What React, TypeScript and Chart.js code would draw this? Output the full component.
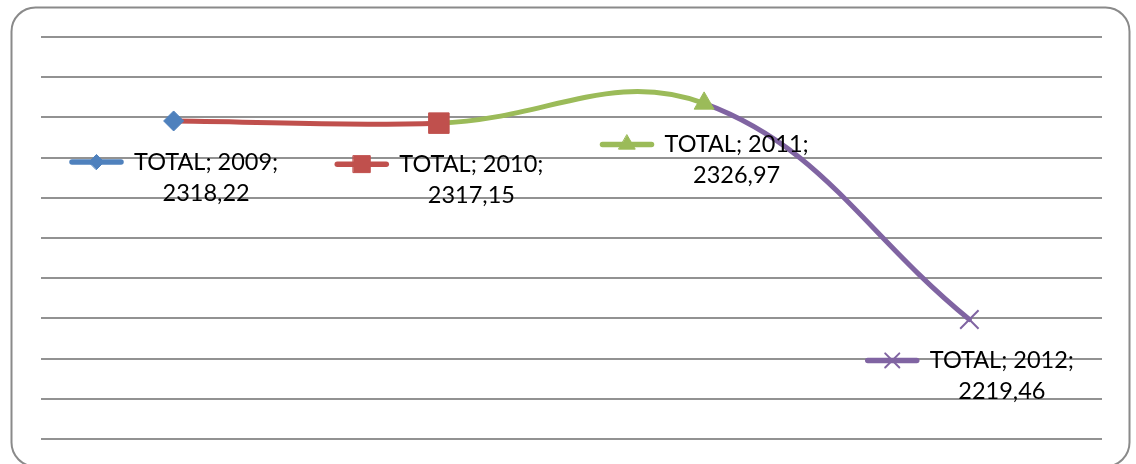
import { useEffect, useRef } from 'react';
import { Chart, registerables } from 'chart.js';
import { drawPoint } from 'chart.js/helpers';

Chart.register(...registerables);

// Yearly totals
const seriesName = 'TOTAL';
const categories = ['2009', '2010', '2011', '2012'];
const totals = [2318.22, 2317.15, 2326.97, 2219.46];

// Value axis (hidden labels, gridlines only)
const yMin = 2160;
const yMax = 2360;
const yStep = 20;

// Per-point styling (Excel "vary colors by point")
const pointColors = ['#4F81BD', '#C0504D', '#9BBB59', '#8064A2'];
const pointStyles = ['rectRot', 'rect', 'triangle', 'crossRot'];
const pointSizes = [10, 14.5, 11.5, 13];
const keySizes = [7.5, 12, 9.5, 10];

const formatValue = (v: number) => v.toFixed(2).replace('.', ',');

const LABEL_FONT = '23.5px Lato';

const framePlugin = {
  id: 'frame',
  beforeDraw(chart: Chart) {
    const ctx = chart.ctx;
    ctx.save();
    ctx.fillStyle = '#ffffff';
    ctx.fillRect(0, 0, chart.width, chart.height);
    ctx.strokeStyle = '#8a8a8a';
    ctx.lineWidth = 2;
    ctx.beginPath();
    (ctx as any).roundRect(11.5, 7.5, 1118, 459, 24);
    ctx.stroke();
    ctx.restore();
  },
};

const pointLabelPlugin = {
  id: 'pointLabels',
  afterDatasetsDraw(chart: Chart) {
    const ctx = chart.ctx;
    const meta = chart.getDatasetMeta(0);
    meta.data.forEach((el: any, i: number) => {
      const { x, y } = el.getProps(['x', 'y'], true);
      const color = pointColors[i];
      const line1 = `${seriesName}; ${categories[i]};`;
      const line2 = formatValue(totals[i]);
      ctx.save();
      ctx.font = LABEL_FONT;
      const w1 = ctx.measureText(line1).width;
      const keyW = 55;
      const gap = 10;
      const left = x - (keyW + gap + w1) / 2;
      const ly1 = y + 41;
      const ly2 = y + 72;

      // legend key: line segment with its marker
      ctx.strokeStyle = color;
      ctx.lineWidth = 5.5;
      ctx.lineCap = 'round';
      ctx.beginPath();
      ctx.moveTo(left + 3, ly1);
      ctx.lineTo(left + keyW - 3, ly1);
      ctx.stroke();
      ctx.fillStyle = color;
      ctx.strokeStyle = color;
      ctx.lineWidth = pointStyles[i] === 'crossRot' ? 2 : 1;
      drawPoint(ctx, { pointStyle: pointStyles[i] as any, radius: keySizes[i], rotation: 0, borderWidth: ctx.lineWidth }, left + keyW / 2, ly1);

      // label text
      ctx.fillStyle = '#000000';
      ctx.textAlign = 'center';
      ctx.textBaseline = 'middle';
      const tx = left + keyW + gap + w1 / 2;
      ctx.fillText(line1, tx, ly1);
      ctx.fillText(line2, tx, ly2);
      ctx.restore();
    });
  },
};

export default function App() {
  const canvasRef = useRef<HTMLCanvasElement | null>(null);

  useEffect(() => {
    const canvas = canvasRef.current;
    if (!canvas) return;
    const chart = new Chart(canvas, {
      type: 'line',
      data: {
        labels: categories,
        datasets: [
          {
            label: seriesName,
            data: totals,
            borderWidth: 5,
            tension: 0.4,
            borderCapStyle: 'round',
            segment: {
              borderColor: (c: any) => pointColors[c.p1DataIndex],
            },
            borderColor: pointColors[0],
            pointStyle: pointStyles as any,
            pointRadius: pointSizes,
            pointHoverRadius: pointSizes,
            pointBackgroundColor: pointColors,
            pointBorderColor: pointColors,
            pointBorderWidth: pointStyles.map((s) => (s === 'crossRot' ? 2 : 1)),
          },
        ],
      },
      options: {
        animation: false,
        responsive: false,
        maintainAspectRatio: false,
        events: [],
        layout: { padding: { left: 41, right: 34, top: 37, bottom: 25 } },
        plugins: {
          legend: { display: false },
          tooltip: { enabled: false },
        },
        scales: {
          x: {
            type: 'category',
            offset: true,
            display: false,
          },
          y: {
            min: yMin,
            max: yMax,
            ticks: { display: false, stepSize: yStep },
            border: { display: false },
            grid: { color: '#929292', lineWidth: 2, drawTicks: false },
            afterFit: (s: any) => {
              s.width = 0;
            },
          },
        },
      },
      plugins: [framePlugin, pointLabelPlugin],
    });
    return () => chart.destroy();
  }, []);

  return (
    <div style={{ position: 'fixed', left: 0, top: 0, width: 1136, height: 464 }}>
      <canvas ref={canvasRef} width={1136} height={464} style={{ width: 1136, height: 464 }} />
    </div>
  );
}
